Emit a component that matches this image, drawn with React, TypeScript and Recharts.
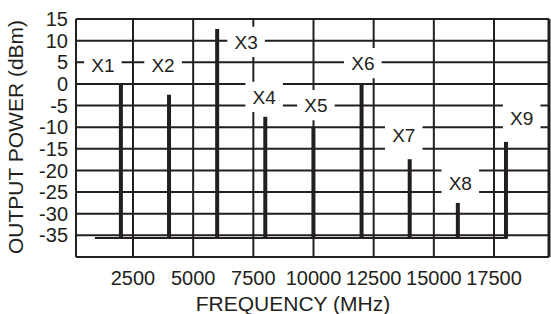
import { Bar, CartesianGrid, ComposedChart, ReferenceArea, ReferenceLine, XAxis, YAxis } from 'recharts'

const harmonics = ['X1', 'X2', 'X3', 'X4', 'X5', 'X6', 'X7', 'X8', 'X9']
const freqMHz = [2000, 4000, 6000, 8000, 10000, 12000, 14000, 16000, 18000]
const powerDbm = [0, -2.5, 12.7, -7.6, -10.2, -0.2, -17.4, -27.5, -13.4]
const noiseFloor = -35.6

const labelFreq = [1250, 3750, 7200, 7950, 10100, 12050, 13750, 16100, 18650]
const labelLevel = [4.4, 4.4, 9.7, -3.0, -4.9, 4.8, -11.8, -22.9, -7.9]

const xTicks = [2500, 5000, 7500, 10000, 12500, 15000, 17500]
const yTicks = [15, 10, 5, 0, -5, -10, -15, -20, -25, -30, -35]

const ink = '#231f20'
const font = '"Liberation Sans", Arial, sans-serif'

const chartData = harmonics.map((name, i) => ({
	name,
	freq: freqMHz[i],
	range: [noiseFloor, powerDbm[i]],
}))

const xDomain: [number, number] = [132, 19785]
const yDomain: [number, number] = [-40, 15]
const boxHalfW = 780
const boxHalfH = 3.5

export default function App() {
	return (
		<div style={{ position: 'absolute', left: 0, top: 0 }}>
			<ComposedChart
				width={551}
				height={314}
				data={chartData}
				margin={{ top: 19, right: 2, bottom: 0, left: 0 }}
			>
				<CartesianGrid
					stroke={ink}
					strokeWidth={2}
				/>
				<XAxis
					type='number'
					dataKey='freq'
					domain={xDomain}
					ticks={xTicks}
					interval={0}
					axisLine={{ stroke: ink, strokeWidth: 2 }}
					tickLine={false}
					tickMargin={8}
					height={57}
					tick={{ fill: ink, fontSize: 20, fontFamily: font }}
				/>
				<YAxis
					type='number'
					domain={yDomain}
					ticks={yTicks}
					interval={0}
					axisLine={{ stroke: ink, strokeWidth: 2 }}
					tickLine={false}
					width={76}
					tick={{ fill: ink, fontSize: 20, fontFamily: font }}
				/>
				<ReferenceLine
					y={yDomain[1]}
					stroke={ink}
					strokeWidth={2}
				/>
				<ReferenceLine
					x={xDomain[1]}
					stroke={ink}
					strokeWidth={3}
				/>
				{harmonics.map((name, i) => (
					<ReferenceArea
						key={name}
						x1={labelFreq[i] - boxHalfW}
						x2={labelFreq[i] + boxHalfW}
						y1={labelLevel[i] - boxHalfH}
						y2={labelLevel[i] + boxHalfH}
						fill='#ffffff'
						fillOpacity={1}
						stroke='none'
						label={{ value: name, position: 'center', fill: ink, fontSize: 19, fontFamily: font }}
					/>
				))}
				<ReferenceLine
					segment={[
						{ x: 920, y: noiseFloor },
						{ x: 18060, y: noiseFloor },
					]}
					stroke={ink}
					strokeWidth={2}
				/>
				<Bar
					dataKey='range'
					barSize={4}
					fill={ink}
					isAnimationActive={false}
				/>
				<text
					x={293}
					y={303}
					textAnchor='middle'
					dominantBaseline='central'
					fill={ink}
					fontSize={21}
					fontFamily={font}
				>
					FREQUENCY (MHz)
				</text>
				<text
					x={15}
					y={137}
					textAnchor='middle'
					dominantBaseline='central'
					transform='rotate(-90 15 137)'
					fill={ink}
					fontSize={21}
					fontFamily={font}
				>
					OUTPUT POWER (dBm)
				</text>
			</ComposedChart>
		</div>
	)
}
